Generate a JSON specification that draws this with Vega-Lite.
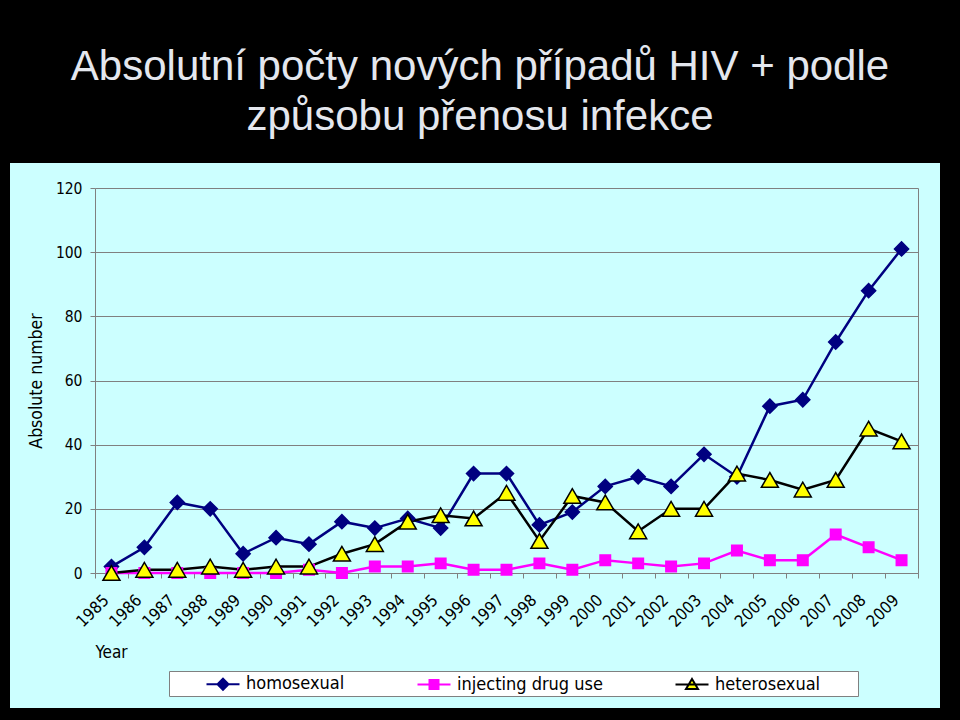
{
  "$schema": "https://vega.github.io/schema/vega-lite/v6.json",
  "width": 930,
  "height": 545,
  "autosize": {"type": "none"},
  "padding": {"left": 10, "top": 163, "right": 20, "bottom": 12},
  "background": "black",
  "title": {
    "text": ["Absolutní počty nových případů HIV + podle", "způsobu přenosu infekce"],
    "font": "Liberation Sans",
    "fontSize": 42,
    "fontWeight": "normal",
    "color": "#E4E7EE",
    "lineHeight": 50,
    "anchor": "middle",
    "frame": "group",
    "offset": 24,
    "dx": 5
  },
  "data": {
    "values": [
      {"year": "1985", "series": "homosexual", "value": 2},
      {"year": "1986", "series": "homosexual", "value": 8},
      {"year": "1987", "series": "homosexual", "value": 22},
      {"year": "1988", "series": "homosexual", "value": 20},
      {"year": "1989", "series": "homosexual", "value": 6},
      {"year": "1990", "series": "homosexual", "value": 11},
      {"year": "1991", "series": "homosexual", "value": 9},
      {"year": "1992", "series": "homosexual", "value": 16},
      {"year": "1993", "series": "homosexual", "value": 14},
      {"year": "1994", "series": "homosexual", "value": 17},
      {"year": "1995", "series": "homosexual", "value": 14},
      {"year": "1996", "series": "homosexual", "value": 31},
      {"year": "1997", "series": "homosexual", "value": 31},
      {"year": "1998", "series": "homosexual", "value": 15},
      {"year": "1999", "series": "homosexual", "value": 19},
      {"year": "2000", "series": "homosexual", "value": 27},
      {"year": "2001", "series": "homosexual", "value": 30},
      {"year": "2002", "series": "homosexual", "value": 27},
      {"year": "2003", "series": "homosexual", "value": 37},
      {"year": "2004", "series": "homosexual", "value": 30},
      {"year": "2005", "series": "homosexual", "value": 52},
      {"year": "2006", "series": "homosexual", "value": 54},
      {"year": "2007", "series": "homosexual", "value": 72},
      {"year": "2008", "series": "homosexual", "value": 88},
      {"year": "2009", "series": "homosexual", "value": 101},
      {"year": "1985", "series": "injecting drug use", "value": 0},
      {"year": "1986", "series": "injecting drug use", "value": 0},
      {"year": "1987", "series": "injecting drug use", "value": 0},
      {"year": "1988", "series": "injecting drug use", "value": 0},
      {"year": "1989", "series": "injecting drug use", "value": 0},
      {"year": "1990", "series": "injecting drug use", "value": 0},
      {"year": "1991", "series": "injecting drug use", "value": 1},
      {"year": "1992", "series": "injecting drug use", "value": 0},
      {"year": "1993", "series": "injecting drug use", "value": 2},
      {"year": "1994", "series": "injecting drug use", "value": 2},
      {"year": "1995", "series": "injecting drug use", "value": 3},
      {"year": "1996", "series": "injecting drug use", "value": 1},
      {"year": "1997", "series": "injecting drug use", "value": 1},
      {"year": "1998", "series": "injecting drug use", "value": 3},
      {"year": "1999", "series": "injecting drug use", "value": 1},
      {"year": "2000", "series": "injecting drug use", "value": 4},
      {"year": "2001", "series": "injecting drug use", "value": 3},
      {"year": "2002", "series": "injecting drug use", "value": 2},
      {"year": "2003", "series": "injecting drug use", "value": 3},
      {"year": "2004", "series": "injecting drug use", "value": 7},
      {"year": "2005", "series": "injecting drug use", "value": 4},
      {"year": "2006", "series": "injecting drug use", "value": 4},
      {"year": "2007", "series": "injecting drug use", "value": 12},
      {"year": "2008", "series": "injecting drug use", "value": 8},
      {"year": "2009", "series": "injecting drug use", "value": 4},
      {"year": "1985", "series": "heterosexual", "value": 0},
      {"year": "1986", "series": "heterosexual", "value": 1},
      {"year": "1987", "series": "heterosexual", "value": 1},
      {"year": "1988", "series": "heterosexual", "value": 2},
      {"year": "1989", "series": "heterosexual", "value": 1},
      {"year": "1990", "series": "heterosexual", "value": 2},
      {"year": "1991", "series": "heterosexual", "value": 2},
      {"year": "1992", "series": "heterosexual", "value": 6},
      {"year": "1993", "series": "heterosexual", "value": 9},
      {"year": "1994", "series": "heterosexual", "value": 16},
      {"year": "1995", "series": "heterosexual", "value": 18},
      {"year": "1996", "series": "heterosexual", "value": 17},
      {"year": "1997", "series": "heterosexual", "value": 25},
      {"year": "1998", "series": "heterosexual", "value": 10},
      {"year": "1999", "series": "heterosexual", "value": 24},
      {"year": "2000", "series": "heterosexual", "value": 22},
      {"year": "2001", "series": "heterosexual", "value": 13},
      {"year": "2002", "series": "heterosexual", "value": 20},
      {"year": "2003", "series": "heterosexual", "value": 20},
      {"year": "2004", "series": "heterosexual", "value": 31},
      {"year": "2005", "series": "heterosexual", "value": 29},
      {"year": "2006", "series": "heterosexual", "value": 26},
      {"year": "2007", "series": "heterosexual", "value": 29},
      {"year": "2008", "series": "heterosexual", "value": 45},
      {"year": "2009", "series": "heterosexual", "value": 41}
    ]
  },
  "encoding": {
    "x": {
      "field": "year",
      "type": "ordinal",
      "scale": {"type": "band", "range": [85, 908], "paddingInner": 0, "paddingOuter": 0},
      "axis": {
        "orient": "bottom",
        "offset": -135,
        "tickBand": "extent",
        "tickSize": 5,
        "tickColor": "#808080",
        "domainColor": "#808080",
        "labelAngle": -45,
        "labelAlign": "right",
        "labelBaseline": "bottom",
        "labelPadding": 25,
        "labelOverlap": false,
        "labelFont": "DejaVu Sans Condensed, DejaVu Sans",
        "labelFontSize": 16.5,
        "labelColor": "black",
        "grid": false,
        "title": "Year",
        "titleAnchor": "start",
        "titleAlign": "left",
        "titlePadding": 14,
        "titleFont": "DejaVu Sans Condensed, DejaVu Sans",
        "titleFontSize": 17,
        "titleFontWeight": "normal",
        "titleColor": "black"
      }
    }
  },
  "layer": [
    {
      "mark": {"type": "line", "strokeWidth": 2.5},
      "encoding": {
        "y": {
          "field": "value",
          "type": "quantitative",
          "scale": {"domain": [0, 120], "range": [410, 25], "nice": false},
          "axis": {
            "orient": "left",
            "offset": -85,
            "values": [0, 20, 40, 60, 80, 100, 120],
            "grid": true,
            "gridColor": "#808080",
            "domainColor": "#808080",
            "tickColor": "#808080",
            "tickSize": 5,
            "labelPadding": 8,
            "labelFont": "DejaVu Sans Condensed, DejaVu Sans",
            "labelFontSize": 15.5,
            "labelColor": "black",
            "title": "Absolute number",
            "titlePadding": 10,
            "titleFont": "DejaVu Sans Condensed, DejaVu Sans",
            "titleFontSize": 17.5,
            "titleFontWeight": "normal",
            "titleColor": "black"
          }
        },
        "detail": {"field": "series", "type": "nominal"},
        "stroke": {
          "condition": [
            {"test": "datum.series === 'homosexual'", "value": "#000080"},
            {"test": "datum.series === 'injecting drug use'", "value": "#FF00FF"}
          ],
          "value": "#000000"
        }
      }
    },
    {
      "mark": {"type": "point", "filled": true, "opacity": 1, "strokeWidth": 1.5},
      "encoding": {
        "y": {
          "field": "value",
          "type": "quantitative",
          "scale": {"domain": [0, 120], "range": [410, 25], "nice": false},
          "axis": {
            "orient": "right",
            "offset": -22,
            "labels": false,
            "ticks": false,
            "grid": false,
            "title": null,
            "domainColor": "#808080"
          }
        },
        "shape": {
          "condition": [
            {"test": "datum.series === 'homosexual'", "value": "diamond"},
            {"test": "datum.series === 'injecting drug use'", "value": "square"}
          ],
          "value": "triangle-up"
        },
        "fill": {
          "condition": [
            {"test": "datum.series === 'homosexual'", "value": "#000080"},
            {"test": "datum.series === 'injecting drug use'", "value": "#FF00FF"}
          ],
          "value": "#FFFF00"
        },
        "stroke": {
          "condition": [
            {"test": "datum.series === 'homosexual'", "value": "#000080"},
            {"test": "datum.series === 'injecting drug use'", "value": "#FF00FF"}
          ],
          "value": "#000000"
        },
        "size": {
          "condition": [
            {"test": "datum.series === 'heterosexual'", "value": 289},
            {"test": "datum.series === 'injecting drug use'", "value": 110}
          ],
          "value": 200
        }
      }
    },
    {
      "mark": {"type": "point", "filled": true, "opacity": 0},
      "encoding": {
        "y": {
          "field": "value",
          "type": "quantitative",
          "scale": {"domain": [0, 120], "range": [410, 25], "nice": false},
          "axis": null
        },
        "shape": {
          "field": "series",
          "type": "nominal",
          "scale": {
            "domain": ["homosexual", "injecting drug use", "heterosexual"],
            "range": [
              "M-1.65,0H1.65M0,-0.55L0.55,0L0,0.55L-0.55,0Z",
              "M-1.65,0H1.65M-0.45,-0.45H0.45V0.45H-0.45Z",
              "M-1.65,0H1.65M0,-0.55L0.6,0.45H-0.6ZM16,0"
            ]
          },
          "legend": {
            "orient": "none",
            "legendX": 159,
            "legendY": 508,
            "direction": "horizontal",
            "title": null,
            "symbolSize": 400,
            "symbolStrokeWidth": 2,
            "symbolOpacity": 1,
            "symbolOffset": 41,
            "labelFont": "DejaVu Sans Condensed, DejaVu Sans",
            "labelFontSize": 18,
            "labelColor": "black",
            "labelOffset": 12,
            "columnPadding": 37,
            "padding": 2,
            "fillColor": "white",
            "strokeColor": "#808080"
          }
        },
        "fill": {
          "field": "series",
          "type": "nominal",
          "scale": {"domain": ["homosexual", "injecting drug use", "heterosexual"], "range": ["#000080", "#FF00FF", "#FFFF00"]},
          "legend": {
            "orient": "none",
            "legendX": 159,
            "legendY": 508,
            "direction": "horizontal",
            "title": null,
            "symbolSize": 400,
            "symbolStrokeWidth": 2,
            "symbolOpacity": 1,
            "symbolOffset": 41,
            "labelFont": "DejaVu Sans Condensed, DejaVu Sans",
            "labelFontSize": 18,
            "labelColor": "black",
            "labelOffset": 12,
            "columnPadding": 37,
            "padding": 2,
            "fillColor": "white",
            "strokeColor": "#808080"
          }
        },
        "stroke": {
          "field": "series",
          "type": "nominal",
          "scale": {"domain": ["homosexual", "injecting drug use", "heterosexual"], "range": ["#000080", "#FF00FF", "#000000"]},
          "legend": {
            "orient": "none",
            "legendX": 159,
            "legendY": 508,
            "direction": "horizontal",
            "title": null,
            "symbolSize": 400,
            "symbolStrokeWidth": 2,
            "symbolOpacity": 1,
            "symbolOffset": 41,
            "labelFont": "DejaVu Sans Condensed, DejaVu Sans",
            "labelFontSize": 18,
            "labelColor": "black",
            "labelOffset": 12,
            "columnPadding": 37,
            "padding": 2,
            "fillColor": "white",
            "strokeColor": "#808080"
          }
        }
      }
    }
  ],
  "resolve": {"axis": {"y": "independent"}},
  "config": {
    "view": {"fill": "#CCFFFF", "stroke": null}
  }
}
